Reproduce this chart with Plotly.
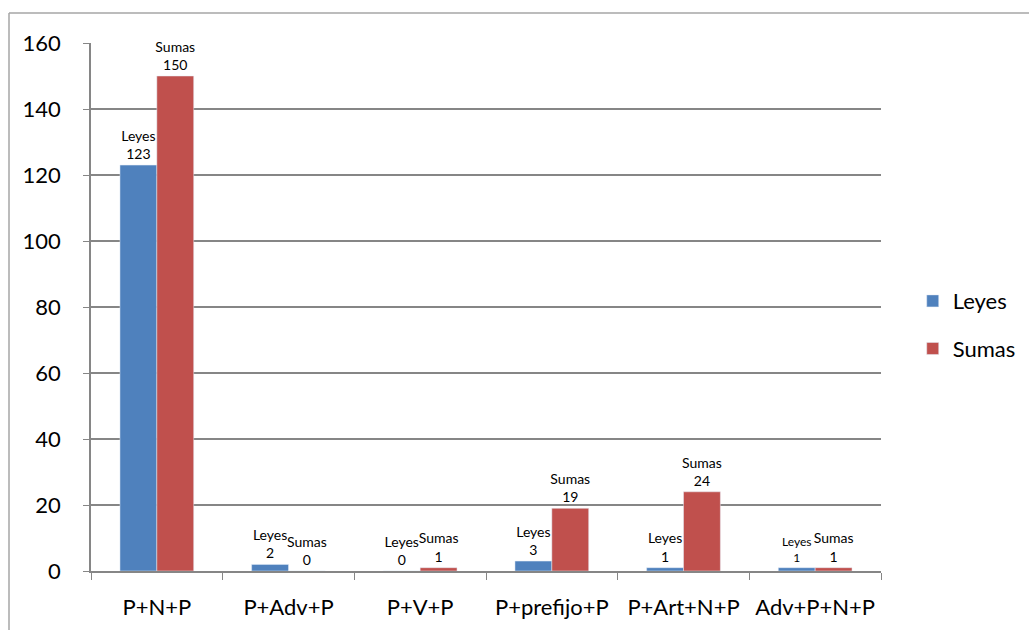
import plotly.graph_objects as go

# datos
categorias = ['P+N+P', 'P+Adv+P', 'P+V+P', 'P+prefijo+P', 'P+Art+N+P', 'Adv+P+N+P']
leyes = [123, 2, 0, 3, 1, 1]
sumas = [150, 0, 1, 19, 24, 1]

azul = '#4f81bd'
rojo = '#c0504d'
gris = '#868686'
fuente = 'Lato, Calibri, sans-serif'

fig = go.Figure()
fig.add_trace(go.Bar(x=categorias, y=leyes, name='Leyes', marker_color=azul,
                     legendgroup='a',
                     text=['Leyes<br>' + str(v) for v in leyes],
                     textposition='outside', cliponaxis=False, constraintext='none',
                     textfont=dict(size=[14, 14, 14, 14, 14, 12], color='black')))
fig.add_trace(go.Bar(x=categorias, y=sumas, name='Sumas', marker_color=rojo,
                     legendgroup='b',
                     text=['Sumas<br>' + str(v) for v in sumas],
                     textposition='outside', cliponaxis=False, constraintext='none',
                     textfont=dict(size=14, color='black')))

fig.update_layout(
    width=1029, height=630,
    margin=dict(l=91, r=148, t=43, b=59, autoexpand=False),
    paper_bgcolor='white', plot_bgcolor='white',
    font=dict(family=fuente, color='black'),
    barmode='group', bargap=0.44, bargroupgap=0,
    legend=dict(xref='container', yref='container', x=0.887, y=0.484,
                yanchor='middle', xanchor='left',
                font=dict(size=22), itemwidth=30, tracegroupgap=16),
    showlegend=True,
)
fig.update_xaxes(showline=True, linecolor=gris, linewidth=1.5,
                 ticks='outside', tickson='boundaries', ticklen=7, tickcolor=gris,
                 tickangle=0, tickfont=dict(size=22), ticklabelstandoff=16, showgrid=False)
fig.update_yaxes(range=[0, 160], dtick=20, showline=True, linecolor=gris, linewidth=1.5,
                 ticks='outside', ticklen=6, tickcolor=gris,
                 showgrid=True, gridcolor=gris, gridwidth=1.5,
                 zeroline=False, tickfont=dict(size=22), ticklabelstandoff=18)

# marco del gráfico (solo bordes izquierdo y superior visibles)
marco = dict(color='#a6a6a6', width=1.5)
fig.add_shape(type='line', xref='paper', yref='paper',
              x0=-0.1038, x1=-0.1038, y0=-0.2, y1=1.0568, line=marco)
fig.add_shape(type='line', xref='paper', yref='paper',
              x0=-0.1038, x1=1.3, y0=1.0568, y1=1.0568, line=marco)

fig.write_html('out.html', config={'displayModeBar': False},
               post_script="document.body.style.margin='0';document.body.style.overflow='hidden';")
